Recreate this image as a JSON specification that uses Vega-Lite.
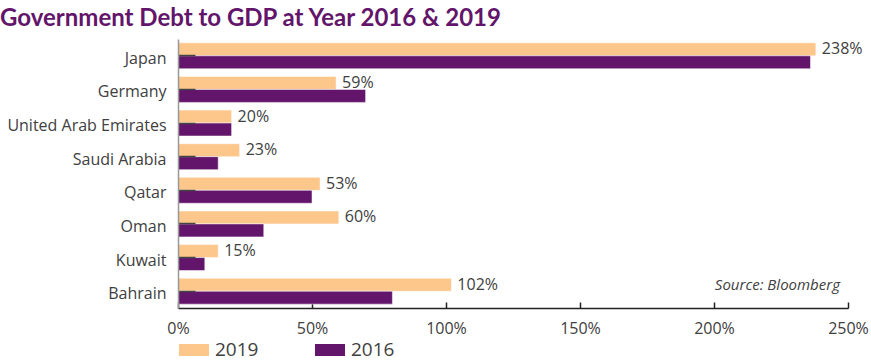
{
  "$schema": "https://vega.github.io/schema/vega-lite/v6.json",
  "autosize": "none",
  "width": 670,
  "height": 269,
  "padding": {"left": 178, "top": 39, "right": 23, "bottom": 54},
  "background": "white",
  "title": {
    "text": "Government Debt to GDP at Year 2016 & 2019",
    "anchor": "start",
    "frame": "group",
    "dx": -178,
    "offset": 8,
    "font": "Lato",
    "fontSize": 24,
    "fontWeight": "bold",
    "color": "#62156A"
  },
  "config": {
    "view": {"stroke": null},
    "font": "Open Sans"
  },
  "data": {
    "values": [
      {"country": "Japan", "year": "2019", "value": 238},
      {"country": "Japan", "year": "2016", "value": 236},
      {"country": "Germany", "year": "2019", "value": 59},
      {"country": "Germany", "year": "2016", "value": 70},
      {"country": "United Arab Emirates", "year": "2019", "value": 20},
      {"country": "United Arab Emirates", "year": "2016", "value": 20},
      {"country": "Saudi Arabia", "year": "2019", "value": 23},
      {"country": "Saudi Arabia", "year": "2016", "value": 15},
      {"country": "Qatar", "year": "2019", "value": 53},
      {"country": "Qatar", "year": "2016", "value": 50},
      {"country": "Oman", "year": "2019", "value": 60},
      {"country": "Oman", "year": "2016", "value": 32},
      {"country": "Kuwait", "year": "2019", "value": 15},
      {"country": "Kuwait", "year": "2016", "value": 10},
      {"country": "Bahrain", "year": "2019", "value": 102},
      {"country": "Bahrain", "year": "2016", "value": 80}
    ]
  },
  "encoding": {
    "y": {
      "field": "country",
      "type": "nominal",
      "sort": null,
      "scale": {"paddingInner": 0.23, "paddingOuter": 0.115},
      "axis": {
        "title": null,
        "domainColor": "#999999",
        "domainWidth": 1.5,
        "tickColor": "#444444",
        "tickWidth": 1.5,
        "tickSize": -17,
        "labelPadding": 29,
        "labelOffset": 3,
        "labelFontSize": 16,
        "labelColor": "#404040",
        "labelFont": "Open Sans",
        "zindex": 1
      }
    },
    "x": {
      "field": "value",
      "type": "quantitative",
      "scale": {"domain": [0, 250], "nice": false},
      "axis": {
        "title": null,
        "values": [0, 50, 100, 150, 200, 250],
        "labelExpr": "datum.value + '%'",
        "labelFlush": false,
        "grid": false,
        "domainColor": "#222222",
        "domainWidth": 1.5,
        "tickColor": "#222222",
        "tickWidth": 1.5,
        "tickSize": -6,
        "labelPadding": 18,
        "labelFontSize": 16,
        "labelColor": "#404040",
        "labelFont": "Open Sans"
      }
    }
  },
  "layer": [
    {
      "mark": {"type": "bar", "stroke": "white", "strokeWidth": 0.5},
      "encoding": {
        "yOffset": {"field": "year", "type": "nominal", "sort": ["2019", "2016"]},
        "color": {
          "field": "year",
          "type": "nominal",
          "sort": ["2019", "2016"],
          "scale": {"domain": ["2019", "2016"], "range": ["#FDC68B", "#62156A"]},
          "legend": {
            "title": null,
            "orient": "none",
            "direction": "horizontal",
            "legendX": 6,
            "legendY": 301,
            "symbolType": "M-1.5,-0.6L1.5,-0.6L1.5,0.6L-1.5,0.6Z",
            "symbolSize": 400,
            "symbolStrokeWidth": 0,
            "labelOffset": 11,
            "labelFontSize": 19,
            "labelColor": "#404040",
            "labelFont": "Open Sans",
            "columnPadding": 56
          }
        }
      }
    },
    {
      "transform": [
        {"filter": "datum.year == '2019'"},
        {"calculate": "datum.value + '%'", "as": "label"}
      ],
      "mark": {"type": "text", "align": "left", "baseline": "middle", "dx": 6, "fontSize": 16, "color": "#404040", "font": "Open Sans"},
      "encoding": {
        "yOffset": {"datum": "2019", "scale": {"domain": ["2019", "2016"]}},
        "text": {"field": "label", "type": "nominal"}
      }
    },
    {
      "data": {"values": [{"source": "Source: Bloomberg", "pos": 247, "row": "Bahrain"}]},
      "mark": {"type": "text", "align": "right", "baseline": "middle", "dy": -6, "fontSize": 15, "fontStyle": "italic", "color": "#404040", "font": "Open Sans"},
      "encoding": {
        "x": {"field": "pos", "type": "quantitative"},
        "y": {"field": "row", "type": "nominal"},
        "text": {"field": "source", "type": "nominal"}
      }
    }
  ]
}
